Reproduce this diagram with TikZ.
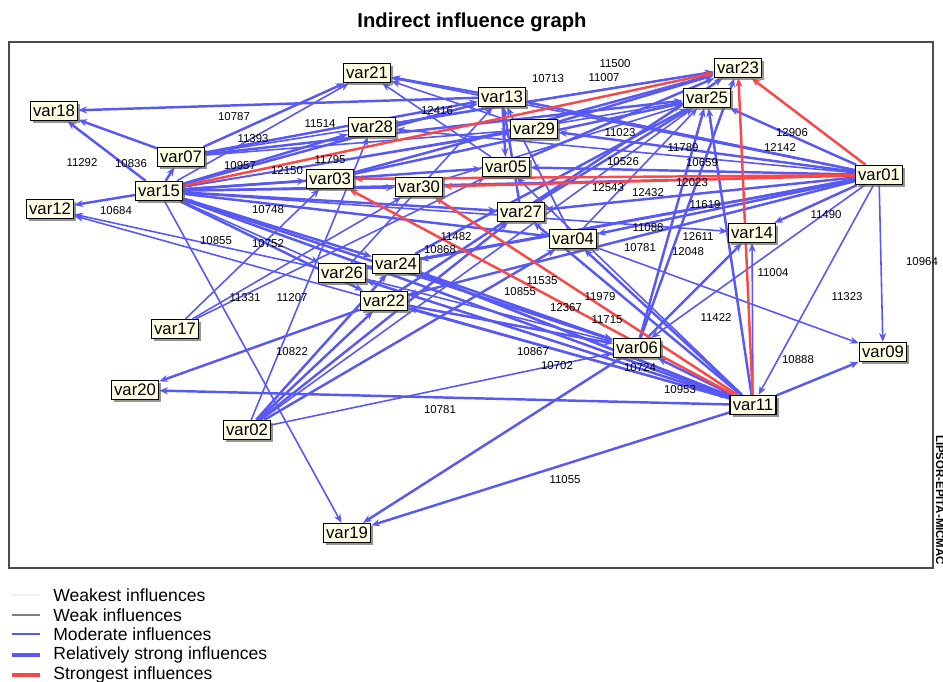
\documentclass[tikz,border=0pt]{standalone}
\usepackage{fontspec}
\setmainfont{Liberation Sans}
\usetikzlibrary{arrows.meta, shadows, backgrounds}

\definecolor{infblue}{RGB}{88,88,245}
\definecolor{infred}{RGB}{250,72,72}
\definecolor{boxfill}{RGB}{255,255,230}

\begin{document}
\begin{tikzpicture}[
    x=0.02cm, y=-0.02cm,
    var/.style={rectangle, draw, thick, fill=boxfill, inner sep=1.5pt, minimum height=0.38cm,
                font=\fontsize{9.5}{10}\selectfont,
                drop shadow={shadow xshift=1.6pt, shadow yshift=-1.6pt, fill=black!60, opacity=0.7}},
    infl/.style={-{Stealth[length=5pt,width=4pt]}, infblue, line width=1.4pt},
    mod/.style={infl, line width=0.9pt},
    topinfl/.style={-{Stealth[length=5pt,width=4pt]}, infred, line width=1.4pt},
    lbl/.style={font=\fontsize{6.5}{7}\selectfont, inner sep=0pt},
    leg/.style={font=\fontsize{10}{11}\selectfont, anchor=west, inner sep=0pt}
]
\useasboundingbox (0,0) rectangle (943,681);

% Title and frame
\node[font=\bfseries\fontsize{11.5}{12}\selectfont] (title) at (472,22) {Indirect influence graph};
\draw[black!70, line width=0.8pt] (9,42) rectangle (933,568);
\node[font=\bfseries\fontsize{6.5}{7}\selectfont, rotate=-90] (credit) at (940,500) {LIPSOR-EPITA-MICMAC};

% Variables
\node[var] (var21) at (367,73) {var21};
\node[var] (var13) at (502,97) {var13};
\node[var] (var23) at (738,68) {var23};
\node[var] (var25) at (707,98) {var25};
\node[var] (var18) at (54,111) {var18};
\node[var] (var28) at (372,127) {var28};
\node[var] (var29) at (534,129) {var29};
\node[var] (var07) at (181,157) {var07};
\node[var] (var05) at (506,167) {var05};
\node[var] (var01) at (879,175) {var01};
\node[var] (var15) at (159,191) {var15};
\node[var] (var03) at (330,179) {var03};
\node[var] (var30) at (419,187) {var30};
\node[var] (var12) at (50,209) {var12};
\node[var] (var27) at (521,212) {var27};
\node[var] (var04) at (573,239) {var04};
\node[var] (var14) at (752,233) {var14};
\node[var] (var26) at (342,273) {var26};
\node[var] (var24) at (396,264) {var24};
\node[var] (var22) at (384,301) {var22};
\node[var] (var17) at (175,329) {var17};
\node[var] (var06) at (637,348) {var06};
\node[var] (var09) at (883,352) {var09};
\node[var] (var20) at (135,390) {var20};
\node[var] (var11) at (753,405) {var11};
\node[var] (var02) at (247,430) {var02};
\node[var] (var19) at (347,533) {var19};

% Influences
\begin{scope}[on background layer]
\foreach \tgt in {var25,var13,var29,var05,var27,var04,var14,var24,var22,var26} \draw[infl] (var01) -- (\tgt);
\foreach \tgt in {var28,var15,var06,var09,var11,var21} \draw[mod] (var01) -- (\tgt);
\foreach \tgt in {var18,var12,var07,var28,var13,var03,var30,var05,var27,var04,var24,var22,var06,var11} \draw[infl] (var15) -- (\tgt);
\foreach \tgt in {var21,var25,var26,var19,var14,var29} \draw[mod] (var15) -- (\tgt);
\foreach \tgt in {var18,var21,var13,var25} \draw[infl] (var07) -- (\tgt);
\foreach \tgt in {var29,var23} \draw[mod] (var07) -- (\tgt);
\foreach \tgt in {var18,var21,var05} \draw[infl] (var13) -- (\tgt);
\foreach \tgt in {var20,var19,var09,var25,var06,var22,var24,var26,var04,var27} \draw[infl] (var11) -- (\tgt);
\foreach \tgt in {var14,var15,var12,var05} \draw[mod] (var11) -- (\tgt);
\foreach \tgt in {var24,var22,var27,var04} \draw[infl] (var02) -- (\tgt);
\foreach \tgt in {var25,var28,var06} \draw[mod] (var02) -- (\tgt);
\foreach \tgt in {var03,var30,var05} \draw[mod] (var17) -- (\tgt);
\foreach \tgt in {var19,var25,var14,var23} \draw[infl] (var06) -- (\tgt);
\foreach \tgt in {var20,var06,var23} \draw[infl] (var22) -- (\tgt);
\foreach \tgt in {var12,var06,var13,var11} \draw[mod] (var26) -- (\tgt);
\foreach \tgt in {var06,var25,var11} \draw[infl] (var24) -- (\tgt);
\foreach \tgt in {var23,var25} \draw[infl] (var03) -- (\tgt);
\foreach \tgt in {var25,var13} \draw[infl] (var27) -- (\tgt);
\foreach \tgt in {var25,var09,var13} \draw[mod] (var04) -- (\tgt);
\draw[infl] (var28) -- (var23);
\draw[mod] (var05) -- (var21);
\draw[infl] (var05) -- (var23);
\draw[mod] (var29) -- (var21);
\draw[infl] (var29) -- (var23);
\draw[mod] (var30) -- (var25);
% Strongest influences
\draw[topinfl] (var01) -- (var23);
\draw[topinfl] (var11) -- (var23);
\draw[topinfl] (var01) -- (var03);
\draw[topinfl] (var01) -- (var30);
\draw[topinfl] (var15) -- (var23);
\draw[topinfl] (var11) -- (var03);
\draw[topinfl] (var11) -- (var30);
\end{scope}

% Values
\foreach \x/\y/\val [count=\i] in {
    234/117/10787, 615/64/11500, 604/78/11007, 548/79/10713, 253/139/11393,
    320/124/11514, 437/111/12416, 82/163/11292, 131/164/10836, 240/166/10957,
    287/171/12150, 330/160/11795, 116/211/10684, 216/241/10855, 268/244/10752,
    268/210/10748, 245/298/11331, 292/298/11207, 292/352/10822, 440/410/10781,
    565/480/11055, 792/133/12906, 780/148/12142, 683/148/11789, 620/133/11023,
    623/162/10526, 702/163/10659, 608/188/12543, 648/193/12432, 692/183/12023,
    705/205/11619, 648/228/11088, 698/237/12611, 688/252/12048, 640/248/10781,
    826/215/11490, 773/273/11004, 847/297/11323, 922/262/10964, 716/318/11422,
    798/360/10888, 680/390/10953, 542/281/11535, 520/292/10855, 566/308/12367,
    600/297/11979, 607/320/11715, 533/352/10867, 557/366/10702, 456/237/11482,
    440/250/10868, 640/368/10724}
  \node[lbl] (val\i) at (\x,\y) {\val};

% Legend
\draw[black!6, line width=0.6pt] (12,595) -- (40,595);
\draw[black!50, line width=0.6pt] (12,615) -- (40,615);
\draw[infblue, line width=0.6pt] (12,634) -- (40,634);
\draw[infblue, line width=2pt] (12,655) -- (40,655);
\draw[infred, line width=2pt] (12,675) -- (40,675);
\node[leg] (weakest) at (53,595) {Weakest influences};
\node[leg] (weak) at (53,615) {Weak influences};
\node[leg] (moderate) at (53,634) {Moderate influences};
\node[leg] (relstrong) at (53,655) {Relatively strong influences};
\node[leg] (strongest) at (53,675) {Strongest influences};

\end{tikzpicture}
\end{document}
